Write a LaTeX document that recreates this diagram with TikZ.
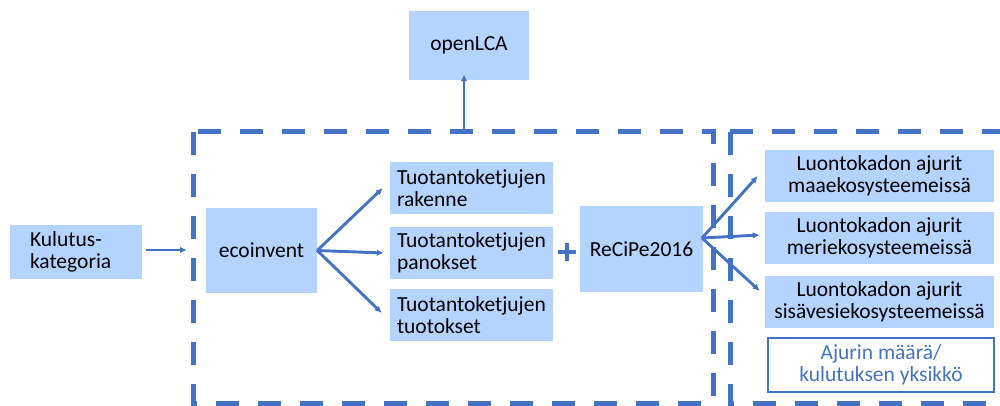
\documentclass[tikz,border=0pt]{standalone}
\usepackage{fontspec}
\setmainfont{Carlito}
\usetikzlibrary{arrows.meta,calc}
\definecolor{boxfill}{HTML}{B4D3FF}
\definecolor{lineblue}{HTML}{4472C4}
\begin{document}
\begin{tikzpicture}[x=1pt,y=-1pt,
  every node/.style={font=\fontsize{21.5}{21.5}\selectfont},
  bx/.style={fill=boxfill, draw=none, inner sep=0pt, align=center},
  conn/.style={draw=lineblue, line width=2.9pt, -{Latex[length=7pt,width=6.5pt]}},
  dashbox/.style={draw=lineblue, line width=5pt, dash pattern=on 23pt off 19pt}]
\useasboundingbox (0,0) rectangle (1000,406);
% dashed frames
\draw[dashbox] (193,132) rectangle (713,403);
\draw[dashbox] (730,132) -- (1012,132) (730,132) -- (730,403) -- (1012,403);
% nodes
\node[bx, minimum width=132pt, minimum height=54pt, text width=92pt, align=left] (kul) at (76,252) {Kulutus-\\kategoria};
\node[bx, minimum width=111pt, minimum height=85pt] (eco) at (261.5,250.5) {ecoinvent};
\node[bx, minimum width=120pt, minimum height=69pt] (olca) at (469,45.5) {openLCA};
\node[bx, minimum width=163pt, minimum height=52pt, text width=149pt, align=left] (t1) at (471.5,188) {Tuotantoketjujen\\rakenne};
\node[bx, minimum width=163pt, minimum height=52pt, text width=149pt, align=left] (t2) at (471.5,253) {Tuotantoketjujen\\panokset};
\node[bx, minimum width=163pt, minimum height=52pt, text width=149pt, align=left] (t3) at (471.5,315) {Tuotantoketjujen\\tuotokset};
\node[bx, minimum width=123pt, minimum height=86pt] (rec) at (641.5,249) {ReCiPe2016};
\node[bx, minimum width=229pt, minimum height=52pt] (maa) at (879.5,176) {Luontokadon ajurit\\maaekosysteemeissä};
\node[bx, minimum width=229pt, minimum height=52pt] (meri) at (879.5,238) {Luontokadon ajurit\\meriekosysteemeissä};
\node[bx, minimum width=229pt, minimum height=52pt] (sisa) at (879.5,302) {Luontokadon ajurit\\sisävesiekosysteemeissä};
\node[draw=lineblue, line width=1.6pt, fill=white, inner sep=0pt, align=center, text=lineblue, minimum width=226pt, minimum height=54pt] (ajm) at (881,365) {Ajurin määrä/\\kulutuksen yksikkö};
% plus sign
\draw[lineblue, line width=4.5pt] (558,252) -- (576,252) (567,243) -- (567,261);
% coordinates
\coordinate (kin) at (187,250);
\coordinate (ltop) at (464,132);
\coordinate (r0) at (702,238);
% connectors
\draw[conn] (kul.east) ++(4,-2) -- (kin);
\draw[conn] (ltop) -- ([xshift=-5pt,yshift=6pt]olca.south);
\draw[conn] (eco.east) -- ([xshift=-7pt]t1.west);
\draw[conn] (eco.east) -- ([xshift=-6pt]t2.west);
\draw[conn] (eco.east) -- ([xshift=-8pt,yshift=2pt]t3.west);
\draw[conn] (r0) -- ([xshift=-7pt]maa.west);
\draw[conn] (r0) -- ([xshift=-5pt,yshift=3pt]meri.west);
\draw[conn] (r0) -- ([xshift=-5pt,yshift=11pt]sisa.west);
\end{tikzpicture}
\end{document}
